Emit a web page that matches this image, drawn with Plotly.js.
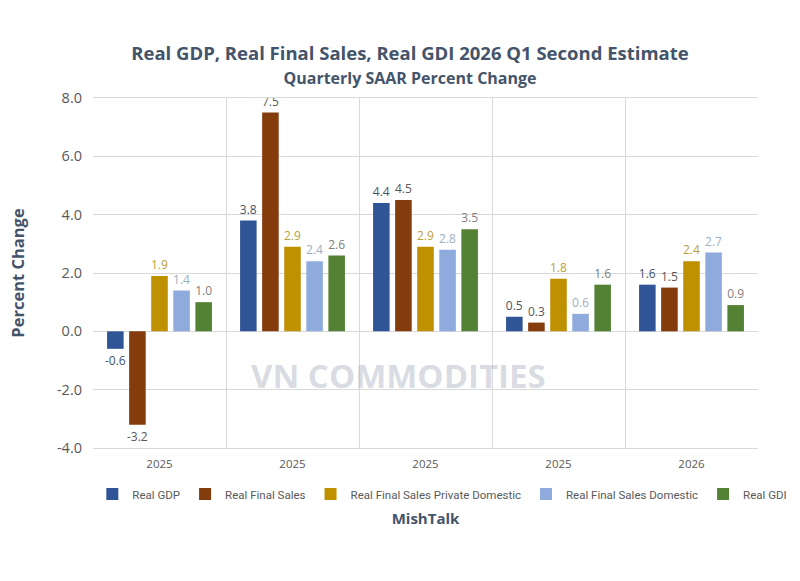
<!DOCTYPE html>
<html>
<head>
<meta charset="utf-8">
<script src="https://cdn.plot.ly/plotly-3.0.1.min.js"></script>
<style>
  html, body { margin: 0; padding: 0; background: #fff; }
  #chart { width: 800px; height: 581px; }
</style>
</head>
<body>
<div id="chart"></div>
<script>
// Quarterly periods (SAAR % change)
const periods = ["Q1 2025", "Q2 2025", "Q3 2025", "Q4 2025", "Q1 2026"];
const periodLabels = ["2025", "2025", "2025", "2025", "2026"];

const realGDP = [-0.6, 3.8, 4.4, 0.5, 1.6];
const realFinalSales = [-3.2, 7.5, 4.5, 0.3, 1.5];
const realFinalSalesPrivateDomestic = [1.9, 2.9, 2.9, 1.8, 2.4];
const realFinalSalesDomestic = [1.4, 2.4, 2.8, 0.6, 2.7];
const realGDI = [1.0, 2.6, 3.5, 1.6, 0.9];

const yTicks = [-4, -2, 0, 2, 4, 6, 8];

const series = [
  { name: "Real GDP", y: realGDP, color: "#2F5597", text: "#44546A" },
  { name: "Real Final Sales", y: realFinalSales, color: "#843C0C", text: "#595959" },
  { name: "Real Final Sales Private Domestic", y: realFinalSalesPrivateDomestic, color: "#BF9000", text: "#B8A13C" },
  { name: "Real Final Sales Domestic", y: realFinalSalesDomestic, color: "#8FAADC", text: "#9DAFC4" },
  { name: "Real GDI", y: realGDI, color: "#548235", text: "#7F7F7F" }
];

const traces = series.map(s => ({
  type: "bar",
  name: s.name,
  x: periods,
  y: s.y,
  marker: { color: s.color },
  text: s.y.map(v => v.toFixed(1)),
  textposition: "outside",
  constraintext: "none",
  cliponaxis: false,
  textfont: { family: "Open Sans, Arial, sans-serif", size: 12, color: s.text },
  hoverinfo: "name+y"
}));

const layout = {
  width: 800,
  height: 581,
  paper_bgcolor: "#ffffff",
  plot_bgcolor: "#ffffff",
  margin: { l: 93, r: 42, t: 98, b: 133, autoexpand: false },
  barmode: "group",
  bargap: 0.17,
  bargroupgap: 0.25,
  font: { family: "Open Sans, Arial, sans-serif", color: "#595959" },
  title: {
    text: "<b>Real GDP, Real Final Sales, Real GDI 2026 Q1 Second Estimate</b>" +
          "<br><span style='font-size:16px'><b>Quarterly SAAR Percent Change</b></span>",
    x: 0.5125, xanchor: "center",
    y: 0.897, yanchor: "top",
    pad: { t: 0 },
    font: { family: "Open Sans, Arial, sans-serif", size: 18.5, color: "#44546A" }
  },
  xaxis: {
    type: "category",
    tickvals: periods,
    ticktext: periodLabels,
    tickson: "boundaries",
    ticklen: 0,
    ticklabelstandoff: 5,
    showgrid: true,
    gridcolor: "#D9D9D9",
    showline: true,
    mirror: true,
    linecolor: "#D9D9D9",
    zeroline: false,
    tickfont: { size: 11.5, color: "#595959" },
    title: {
      text: "<b>MishTalk</b>",
      standoff: 43,
      font: { size: 15, color: "#44546A" }
    }
  },
  yaxis: {
    range: [-4, 8],
    tickvals: yTicks,
    ticktext: yTicks.map(v => v.toFixed(1)),
    showgrid: true,
    gridcolor: "#D9D9D9",
    zeroline: true,
    zerolinecolor: "#D9D9D9",
    zerolinewidth: 1,
    showline: false,
    ticks: "",
    ticklabelstandoff: 10,
    tickfont: { size: 14.5, color: "#595959" },
    title: {
      text: "<b>Percent Change</b>",
      standoff: 28,
      font: { size: 16.5, color: "#44546A" }
    }
  },
  legend: {
    orientation: "h",
    x: -0.001, xanchor: "left",
    y: -0.09, yanchor: "top",
    font: { family: "Roboto, Arial, sans-serif", size: 11.5, color: "#595959" },
    itemwidth: 30,
    tracegroupgap: 0
  },
  annotations: [
    {
      text: "<b>VN COMMODITIES</b>",
      xref: "paper", yref: "paper",
      x: 0.46, y: 0.208,
      xanchor: "center", yanchor: "middle",
      showarrow: false,
      font: { family: "Open Sans, Arial, sans-serif", size: 33, color: "rgba(170,175,190,0.45)" }
    }
  ]
};

Plotly.newPlot("chart", traces, layout, { displayModeBar: false, staticPlot: true });
</script>
</body>
</html>
